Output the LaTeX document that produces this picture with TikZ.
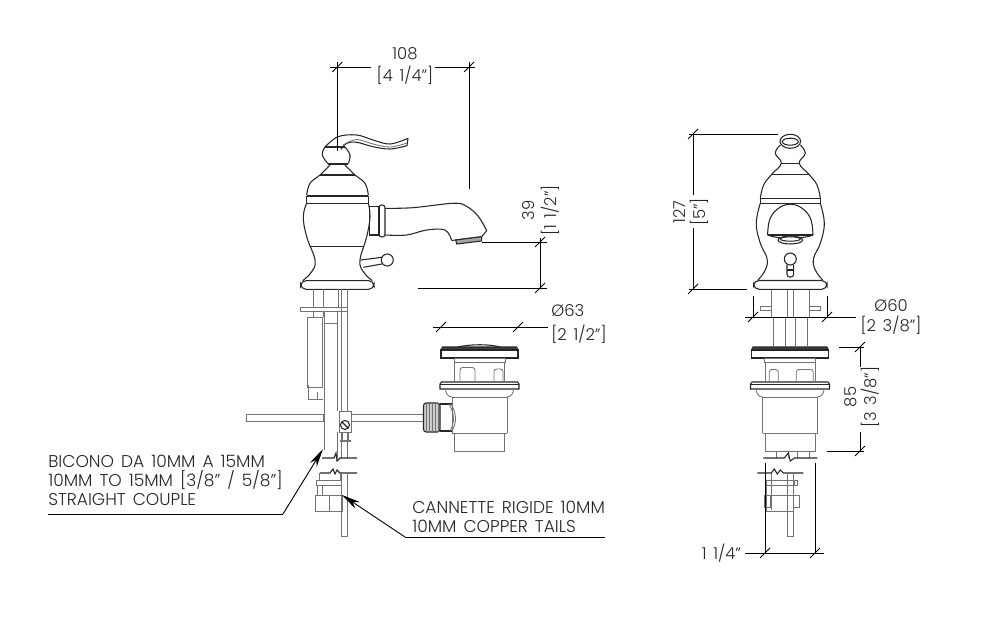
\documentclass[tikz,border=0pt]{standalone}
\usepackage{fontspec}
\setmainfont{Poppins}[UprightFont=* Light, WordSpace=1.5]
\usetikzlibrary{calc, arrows.meta}
\tikzstyle{part} = [line width=.8pt, black!85]
\tikzstyle{thinpart} = [line width=.65pt, black!55]
\tikzstyle{dimline} = [line width=.65pt, black]
\tikzstyle{leader} = [line width=.7pt, black, -{Stealth[length=14pt, width=6pt]}]
\tikzstyle{dimtext} = [inner sep=0pt, font=\fontsize{12.3}{14}\selectfont, align=center, black!85]
\tikzstyle{notetext} = [inner sep=0pt, anchor=west, font=\fontsize{12.8}{14.2}\selectfont, align=left, black!85]
\newcommand{\dimtick}[1]{\draw[dimline] ($(#1)+(-5,5)$) -- ($(#1)+(5,-5)$);}
\begin{document}
\begin{tikzpicture}[x=.75pt, y=-.75pt]
        \useasboundingbox (0,0) rectangle (1004,631);
        % side view, lever
        \draw[part] plot[smooth, tension=.7] coordinates {(325,147) (322.3,155) (328.3,164)};
        \draw[part] plot[smooth, tension=.7] coordinates {(345,147) (350,155) (348.3,163.5)};
        \draw[part] (325,147) -- (345,147) (328.3,164) -- (348.3,164);
        \draw[part] plot[smooth, tension=.6] coordinates {(325,147) (338,136.7) (356.7,135) (373,140) (390,144) (408,138.3)};
        \draw[part] (408,138.3) -- (407,145.7);
        \draw[part] plot[smooth, tension=.6] coordinates {(407,145.7) (390,149) (373,146.7) (356.7,142.3) (346.7,143.3) (341,149.3)};
        \draw[thinpart] plot[smooth, tension=.6] coordinates {(343,145) (356.7,139.5) (373,144) (390,147) (407,143)};
        % side view, body
        \draw[part] plot[smooth, tension=.7] coordinates {(330,165) (320,175) (310,183.3) (306.7,195)};
        \draw[part] plot[smooth, tension=.7] coordinates {(345,165) (355,175) (365,183.3) (368.3,195)};
        \draw[part] (320,175) -- (355,175);
        \draw[line width=1.3pt, black!85] (306.7,196) -- (368.3,196);
        \draw[part] (306.7,196) -- (306.7,203.3) (368.3,196) -- (368.3,203.3) (306.7,203.3) -- (368.3,203.3);
        \draw[part] plot[smooth, tension=.7] coordinates {(306.7,203.3) (303.3,216.7) (306.7,236.7) (315,260) (311.7,271.7) (302.7,280.7)};
        \draw[part] plot[smooth, tension=.7] coordinates {(368.3,203.3) (370,216.7) (366.7,236.7) (360,260) (363.3,271.7) (372.3,280.7)};
        \draw[part] (310,246.7) -- (363.3,246.7);
        \draw[part, rounded corners=4] (300.7,280.7) rectangle (374,289.3);
        % side view, spout
        \draw[part] (369.5,206.7) rectangle (379,235);
        \draw[part, rounded corners=2] (379,205) rectangle (385,237);
        \draw[part] plot[smooth, tension=.6] coordinates {(385,208.3) (413,207.7) (453,203.3) (466,206) (478,216) (486.7,230.7)};
        \draw[part] (486.7,230.7) -- (481.7,236.7) -- (451.7,240.5);
        \draw[part] plot[smooth, tension=.6] coordinates {(451.7,240.5) (445,230) (426.7,230) (406.7,235) (385,235)};
        \draw[part, fill=black!35] (455.7,240) -- (481.7,236.7) -- (481.7,241) -- (456.7,244) -- cycle;
        \draw[part] (387.3,260) circle (6);
        \draw[part] (361,260) -- (382,257.3) (363.3,267.3) -- (382,264);
        % side view, under the deck
        \draw[thinpart] (313,289.3) -- (313,307) (323,289.3) -- (323,307) (338,289.3) -- (338,307);
        \draw[thinpart] (341,289.3) -- (341,458) (347,289.3) -- (347,458);
        \draw[thinpart] (300,307) rectangle (347,311);
        \draw[thinpart] (313,311) -- (313,317) (323,311) -- (323,317);
        \draw[thinpart] (307.7,317) rectangle (322.5,387);
        \draw[thinpart] (308.5,385) -- (308.5,399) -- (322.5,399) (317,392) -- (317,399);
        \draw[thinpart] (324.5,311) -- (324.5,450) (337,311) -- (337,411);
        \draw[thinpart] (324.5,323) -- (337,323);
        \draw[thinpart] (337,432) -- (337,458);
        \draw[thinpart] (246,414) rectangle (323.5,421);
        \draw[thinpart] (351,414) -- (423,414) (351,421) -- (423,421);
        \draw[thinpart, fill=white] (339,411) rectangle (351,432);
        \draw[part, fill=white] (345,425) circle (4.5);
        \draw[part] (342,422) -- (348,428);
        \draw[thinpart] (342,432) -- (342,440) (348,432) -- (348,440) (340,440) rectangle (350,441);
        % broken pipes
        \draw[part] (322,458) -- (334,458) -- (336,453) -- (337,461) -- (340,458) -- (357,458);
        \draw[part] (320,473) -- (330,473) -- (333,469) -- (335,474) -- (337,470) -- (340,473) -- (357,473);
        \draw[thinpart] (341,473) -- (341,536) -- (347,536) -- (347,473);
        \draw[thinpart] (319,473) -- (319,480) (340,473) -- (340,480);
        \draw[thinpart] (316.5,480) rectangle (341,485);
        \draw[thinpart] (317,485) rectangle (341,495);
        \draw[thinpart] (315,495) rectangle (342,511);
        \draw[thinpart] (329,495) -- (329,511) (322,485) -- (322,495);
        % drain, both views
        \foreach \cx in {479.5, 790}
        {
            \begin{scope}[shift={(\cx,0)}]
                \draw[part, fill=black!75] (-38.5,350) -- (-37,347) -- (37,347) -- (38.5,350) -- cycle;
                \draw[part] (-38.5,350) rectangle (38.5,358);
                \draw[thinpart] (-25.5,358) rectangle (25.5,362);
                \draw[part] (-39.5,384) -- (-38,382) -- (38,382) -- (39.5,384) -- (39.5,389) -- (-39.5,389) -- cycle;
                \draw[part] (-39.5,384.5) -- (39.5,384.5);
                \draw[thinpart] (-34,389) to[out=-90, in=180] (-27.5,397) (34,389) to[out=-90, in=0] (27.5,397);
                \draw[thinpart] (-27.5,397) -- (27.5,397) (-27.5,397) -- (-27.5,433) (27.5,397) -- (27.5,433) (-27.5,433) -- (27.5,433);
                \draw[thinpart] (-25,362) -- (-25,382) (25,362) -- (25,382);
                \draw[thinpart] (-25,433) -- (-25,451.5) -- (25,451.5) -- (25,433);
            \end{scope}
        }
        % side view, drain posts and connection
        \draw[part] (458,347) .. controls (470,344) and (490,344) .. (500,347);
        \draw[thinpart, rounded corners=2] (460,382) -- (460,367.5) -- (475,367.5) -- (475,382);
        \draw[thinpart, rounded corners=2] (494,382) -- (494,369) -- (503,369) -- (503,382);
        \draw[part, fill=black!20, rounded corners=2] (423.5,403) rectangle (440,432);
        \foreach \kx in {426,429,432,435,438}
        {
            \draw[thinpart] (\kx,403) -- (\kx,432);
        }
        \draw[part] (440,404) -- (452,404) (440,431) -- (452,431);
        \draw[thinpart] (451,404) to[out=-60, in=60] (452,431) (449,404) to[out=-60, in=60] (450,431);
        % front view
        \begin{scope}[shift={(790.3,0)}]
            \draw[part] (0,141.3) ellipse (10.3 and 7);
            \draw[part] (0,141.7) ellipse (8 and 3.5);
            \foreach \sx in {-1,1}
            {
                \begin{scope}[xscale=\sx]
                    \draw[part] plot[smooth, tension=.7] coordinates {(-10,145) (-15,153.3) (-9,163.3) (-18.6,174.3) (-26.7,185) (-30,198.3)};
                    \draw[part] plot[smooth, tension=.7] coordinates {(-30,203.3) (-34,223.3) (-30,243.3) (-23.3,258.3) (-25,270) (-32.7,280.5)};
                    \draw[part] (-30,198.3) -- (-30,203.3);
                    \draw[part] plot[smooth, tension=.7] coordinates {(-22.7,235) (-20,218) (-10,207) (0,204.3)};
                    \draw[thinpart] (-19,289.3) -- (-19,317) (-3.3,289.3) -- (-3.3,317);
                    \draw[thinpart] (-30,306.7) rectangle (-19,310);
                    \draw[thinpart] (-17,317) -- (-17,347) (-5,317) -- (-5,347);
                \end{scope}
            }
            \draw[part] (-9,163.3) -- (9,163.3);
            \draw[part] (-18.6,174.3) -- (18.6,174.3);
            \draw[line width=1.1pt, black!85] (-30,198.6) -- (30,198.6);
            \draw[part] (-30,203.3) -- (30,203.3);
            \draw[part] (-22.7,235) -- (22.7,235);
            \draw[part] (-22.7,235) .. controls (-15,239) and (15,239) .. (22.7,235);
            \draw[part, fill=white] (0,240) ellipse (12.3 and 4);
            \draw[part] (0,239) ellipse (10 and 2.2);
            \draw[part] (-3.3,254) arc (180:0:3.3);
            \draw[part, fill=white] (0,259) circle (6);
            \draw[part, rounded corners=2] (-3.3,265) -- (-3.3,277) -- (3.3,277) -- (3.3,265);
            \draw[part] (-3.3,270) -- (3.3,270);
            \draw[part, rounded corners=4] (-36.7,280.5) rectangle (36.7,289.3);
            % front drain posts
            \draw[thinpart, rounded corners=2] (-21,382) -- (-21,369.5) -- (-12,369.5) -- (-12,382);
            \draw[thinpart, rounded corners=2] (6,382) -- (6,369.5) -- (23,369.5) -- (23,382);
            \draw[thinpart] (-14,451.5) -- (-14,458) (-2,451.5) -- (-2,458) (7,451.5) -- (7,458) (19,451.5) -- (19,458);
            % front pipes below the break
            \draw[part] (-27,458) -- (-6,458) -- (-2,453) -- (0,461) -- (4,458) -- (27,458);
            \draw[part] (-33,473) -- (-19,473) -- (-16,469) -- (-13,474) -- (-10,470) -- (-7,473) -- (13,473);
            \draw[thinpart] (-3.3,473) -- (-3.3,536) -- (3,536) -- (3,473);
            \draw[thinpart] (-24,480) rectangle (4,485);
            \draw[thinpart] (4,480) rectangle (7,485) (-24,485) -- (-24,495) (-19,473) -- (-19,510);
            \draw[thinpart] (-25.5,495) rectangle (-20,507) (3,495) rectangle (9,507);
            \draw[thinpart] (-24,495) -- (4,495) (-24,511) -- (4,511) (-24,495) -- (-24,511);
        \end{scope}
        % dimension 108
        \coordinate (topL) at (337.3,67);
        \coordinate (topR) at (469,67);
        \node[dimtext] (dimA) at (405,66) {108\\[2pt]{}[4 1/4"]};
        \draw[dimline] (topL) -- (371,67) (435,67) -- (topR);
        \draw[dimline] (330,67) -- (topL) (topR) -- (475,67);
        \draw[dimline] (337.3,62) -- (337.3,151) (469,62) -- (469,189);
        \dimtick{topL} \dimtick{topR}
        % dimension 39
        \coordinate (spoutB) at (540,242);
        \coordinate (spoutD) at (540,288);
        \node[dimtext, rotate=90] (dimB) at (541,210.5) {39\\[2pt]{}[1 1/2"]};
        \draw[dimline] (482,242) -- (547,242) (418,288) -- (547,288) (spoutB) -- (spoutD);
        \draw[dimline] (540,238) -- (spoutB);
        \dimtick{spoutB} \dimtick{spoutD}
        % dimension 63
        \coordinate (drainL) at (441,327);
        \coordinate (drainR) at (518,327);
        \node[dimtext, align=left] (dimC) at (579,324) {Ø63\\[4pt]{}[2 1/2"]};
        \draw[dimline] (433,327) -- (548,327);
        \dimtick{drainL} \dimtick{drainR}
        % dimension 127
        \coordinate (frontT) at (693,134);
        \coordinate (frontB) at (693,289);
        \node[dimtext, rotate=90] (dimD) at (691.5,212) {127\\[1pt]{}[5"]};
        \draw[dimline] (689,134) -- (778,134) (689,289) -- (747,289);
        \draw[dimline] (frontT) -- (693,195) (693,228) -- (frontB);
        \dimtick{frontT} \dimtick{frontB}
        % dimension 60
        \coordinate (deckL) at (753,317);
        \coordinate (deckR) at (827,317);
        \node[dimtext] (dimE) at (891,317.5) {Ø60\\[1pt]{}[2 3/8"]};
        \draw[dimline] (745,317) -- (856,317);
        \draw[dimline] (753,296) -- (deckL) (827,296) -- (deckR);
        \dimtick{deckL} \dimtick{deckR}
        % dimension 85
        \coordinate (wasteT) at (860,347);
        \coordinate (wasteB) at (860,451);
        \node[dimtext, rotate=90] (dimF) at (862.5,397) {85\\[1pt]{}[3 3/8"]};
        \draw[dimline] (839,347) -- (864,347) (827,451) -- (864,451);
        \draw[dimline] (wasteT) -- (860,367) (860,432) -- (wasteB);
        \dimtick{wasteT} \dimtick{wasteB}
        % dimension 1 1/4
        \coordinate (tailL) at (765,553);
        \coordinate (tailR) at (815,553);
        \node[dimtext] (dimG) at (721.5,553) {1 1/4"};
        \draw[dimline] (745,553) -- (824,553);
        \draw[dimline] (765,463) -- (tailL) (815,463) -- (tailR);
        \dimtick{tailL} \dimtick{tailR}
        % notes
        \node[notetext] (noteA) at (48,480.5) {BICONO DA 10MM A 15MM\\10MM TO 15MM [3/8" / 5/8"]\\STRAIGHT COUPLE};
        \node[notetext] (noteB) at (412,516.5) {CANNETTE RIGIDE 10MM\\10MM COPPER TAILS};
        \coordinate (noteAstart) at (48,514);
        \coordinate (noteAbend) at (283,514);
        \coordinate (noteAtip) at (323,449);
        \coordinate (noteBstart) at (605,537);
        \coordinate (noteBbend) at (405,537);
        \coordinate (noteBtip) at (342,495);
        \draw[line width=.7pt] (noteAstart) -- (noteAbend);
        \draw[leader] (noteAbend) -- (noteAtip);
        \draw[line width=.7pt] (noteBstart) -- (noteBbend);
        \draw[leader] (noteBbend) -- (noteBtip);
    \end{tikzpicture}
\end{document}
